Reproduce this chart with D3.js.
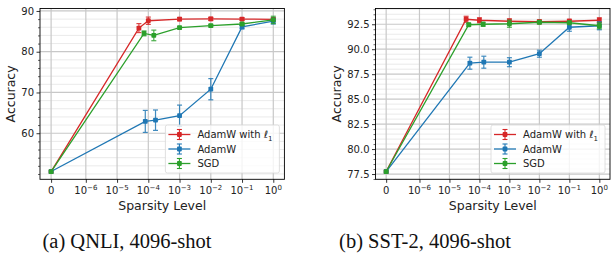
<!DOCTYPE html>
<html><head><meta charset="utf-8">
<script src="https://cdn.jsdelivr.net/npm/d3@7"></script>
<style>body{margin:0;background:#fff}svg{display:block}text{font-family:"DejaVu Sans",sans-serif}text.cap{font-family:"Liberation Serif","Times New Roman",serif}</style>
</head><body><svg id="c" width="611" height="258"></svg>
<script>
// ---- data ----
const xTickVals = [0, 1e-6, 1e-5, 1e-4, 1e-3, 1e-2, 1e-1, 1];
const xTickExps = [null, "\u22126", "\u22125", "\u22124", "\u22123", "\u22122", "\u22121", "0"];
const seriesNames = ["AdamW with \u2113", "AdamW", "SGD"];
const seriesColors = ["#d62728", "#1f77b4", "#2ca02c"];

const qnliRedX = [0, 5e-5, 1e-4, 1e-3, 1e-2, 1e-1, 1];
const qnliRedY = [50.6, 85.8, 87.6, 88.0, 88.05, 88.0, 87.95];
const qnliRedE = [0, 1.1, 0.9, 0.4, 0.4, 0.3, 0.4];
const qnliBlueX = [0, 8e-5, 1.7e-4, 1e-3, 1e-2, 1e-1, 1];
const qnliBlueY = [50.6, 62.9, 63.2, 64.3, 70.8, 86.1, 87.5];
const qnliBlueE = [0, 2.7, 2.5, 2.6, 2.6, 0.5, 0.7];
const qnliGreenX = [0, 7.3e-5, 1.5e-4, 1e-3, 1e-2, 1e-1, 1];
const qnliGreenY = [50.6, 84.5, 84.0, 85.9, 86.4, 86.8, 87.8];
const qnliGreenE = [0, 0.6, 1.3, 0.3, 0.3, 0.3, 0.9];
const qnliYTicks = [60, 70, 80, 90];
const qnliYMinorStep = 2;

const sstRedX = [0, 3.6e-5, 1e-4, 1e-3, 1e-2, 1e-1, 1];
const sstRedY = [77.75, 93.0, 92.9, 92.8, 92.75, 92.8, 92.9];
const sstRedE = [0, 0.3, 0.25, 0.25, 0.2, 0.2, 0.25];
const sstBlueX = [0, 4.8e-5, 1.4e-4, 1e-3, 1e-2, 1e-1, 1];
const sstBlueY = [77.75, 88.6, 88.7, 88.7, 89.55, 92.2, 92.35];
const sstBlueE = [0, 0.6, 0.6, 0.45, 0.35, 0.4, 0.4];
const sstGreenX = [0, 4.4e-5, 1.33e-4, 1e-3, 1e-2, 1e-1, 1];
const sstGreenY = [77.75, 92.45, 92.5, 92.55, 92.7, 92.65, 92.35];
const sstGreenE = [0, 0.15, 0.2, 0.35, 0.15, 0.15, 0.3];
const sstYTicks = [77.5, 80.0, 82.5, 85.0, 87.5, 90.0, 92.5];
const sstYMinorStep = 0.5;

const captions = ["(a) QNLI, 4096-shot", "(b) SST-2, 4096-shot"];

// ---- symlog transform (linthresh 1e-6, linscale 1) ----
const LT = 1e-6, LS = 1 / (1 - 0.1);
const symT = v => v <= LT ? v / LT * LS : LS + Math.log10(v / LT);

const svg = d3.select("#c");

function panel(opt) {
  const {left, right, top, bottom, series, yTicks, minorStep, fmt, labelX, caption, capX} = opt;
  const g = svg.append("g");
  const tMin = symT(0), tMax = symT(1), tm = (tMax - tMin) * 0.05;
  const x = d3.scaleLinear().domain([tMin - tm, tMax + tm]).range([left, right]);
  const X = v => x(symT(v));
  let lo = Infinity, hi = -Infinity;
  series.forEach(s => s.y.forEach((v, i) => { lo = Math.min(lo, v - s.e[i]); hi = Math.max(hi, v + s.e[i]); }));
  const ym = (hi - lo) * 0.05;
  const y = d3.scaleLinear().domain([lo - ym, hi + ym]).range([bottom, top]);
  const [d0, d1] = y.domain();
  const minor = d3.range(Math.ceil(d0 / minorStep) * minorStep, d1, minorStep).filter(v => !yTicks.some(t => Math.abs(t - v) < 1e-9));

  // grid
  g.append("g").selectAll("line").data(minor).join("line")
    .attr("x1", left).attr("x2", right).attr("y1", d => y(d)).attr("y2", d => y(d))
    .attr("stroke", "#e4e4e4").attr("stroke-width", 0.8);
  g.append("g").selectAll("line").data(yTicks).join("line")
    .attr("x1", left).attr("x2", right).attr("y1", d => y(d)).attr("y2", d => y(d))
    .attr("stroke", "#c8c8c8").attr("stroke-width", 1.2);
  g.append("g").selectAll("line").data(xTickVals).join("line")
    .attr("x1", d => X(d)).attr("x2", d => X(d)).attr("y1", top).attr("y2", bottom)
    .attr("stroke", "#c8c8c8").attr("stroke-width", 1.2);

  // series
  series.forEach(s => {
    const pts = s.x.map((v, i) => ({x: v, y: s.y[i], e: s.e[i]}));
    const sg = g.append("g");
    sg.append("path").datum(pts)
      .attr("d", d3.line().x(d => X(d.x)).y(d => y(d.y)))
      .attr("fill", "none").attr("stroke", s.color).attr("stroke-width", 1.3);
    const eb = sg.selectAll("g.eb").data(pts.filter(d => d.e > 0)).join("g").attr("stroke", s.color).attr("stroke-width", 1.2).attr("opacity", 0.85);
    eb.append("line").attr("x1", d => X(d.x)).attr("x2", d => X(d.x)).attr("y1", d => y(d.y - d.e)).attr("y2", d => y(d.y + d.e));
    eb.append("line").attr("x1", d => X(d.x) - 2.5).attr("x2", d => X(d.x) + 2.5).attr("y1", d => y(d.y - d.e)).attr("y2", d => y(d.y - d.e));
    eb.append("line").attr("x1", d => X(d.x) - 2.5).attr("x2", d => X(d.x) + 2.5).attr("y1", d => y(d.y + d.e)).attr("y2", d => y(d.y + d.e));
    sg.selectAll("rect").data(pts).join("rect")
      .attr("x", d => X(d.x) - 2.4).attr("y", d => y(d.y) - 2.4).attr("width", 4.8).attr("height", 4.8)
      .attr("rx", 0.8).attr("fill", s.color);
  });

  // axes
  const ax = g.append("g").attr("transform", `translate(0,${bottom})`)
    .call(d3.axisBottom(x).tickValues(xTickVals.map(symT)).tickSize(3.5).tickPadding(3).tickFormat(""));
  ax.selectAll(".tick text").remove();
  ax.select(".domain").remove();
  ax.selectAll(".tick line").attr("stroke", "#000").attr("stroke-width", 0.8);
  const tl = g.append("g").selectAll("text").data(xTickVals).join("text")
    .attr("x", d => X(d)).attr("y", bottom + 15).attr("text-anchor", "middle")
    .attr("font-size", 10).attr("fill", "#222");
  tl.each(function(d, i) {
    const t = d3.select(this);
    if (xTickExps[i] === null) { t.text("0"); return; }
    t.append("tspan").text("10");
    t.append("tspan").attr("dy", -4).attr("font-size", 7).text(xTickExps[i]);
  });

  const ayMinor = g.append("g").attr("transform", `translate(${left},0)`)
    .call(d3.axisLeft(y).tickValues(minor).tickSize(2).tickFormat(""));
  ayMinor.select(".domain").remove();
  ayMinor.selectAll(".tick line").attr("stroke", "#000").attr("stroke-width", 0.6);
  const ay = g.append("g").attr("transform", `translate(${left},0)`)
    .call(d3.axisLeft(y).tickValues(yTicks).tickSize(3.5).tickPadding(2.5).tickFormat(fmt));
  ay.select(".domain").remove();
  ay.selectAll(".tick line").attr("stroke", "#000").attr("stroke-width", 0.8);
  ay.selectAll(".tick text").attr("font-size", 10).attr("fill", "#222").attr("font-family", "DejaVu Sans");

  g.append("rect").attr("x", left).attr("y", top).attr("width", right - left).attr("height", bottom - top)
    .attr("fill", "none").attr("stroke", "#000").attr("stroke-width", 0.9);

  // labels
  g.append("text").attr("x", (left + right) / 2).attr("y", bottom + 31).attr("text-anchor", "middle")
    .attr("font-size", 12.5).attr("fill", "#222").text("Sparsity Level");
  g.append("text").attr("transform", `translate(${labelX},${(top + bottom) / 2}) rotate(-90)`)
    .attr("text-anchor", "middle").attr("font-size", 12.5).attr("fill", "#222").text("Accuracy");

  // legend
  const lx = right - 119, ly = 125;
  const lg = g.append("g");
  lg.append("rect").attr("x", lx).attr("y", ly).attr("width", 114).attr("height", 48).attr("rx", 2)
    .attr("fill", "#fff").attr("fill-opacity", 0.8).attr("stroke", "#d8d8d8").attr("stroke-width", 0.8);
  series.forEach((s, i) => {
    const cy = ly + 9.5 + i * 14.5, sx = lx + 3;
    const e = lg.append("g").attr("stroke", s.color);
    e.append("line").attr("x1", sx).attr("x2", sx + 22).attr("y1", cy).attr("y2", cy).attr("stroke-width", 1.3);
    e.append("line").attr("x1", sx + 11).attr("x2", sx + 11).attr("y1", cy - 5).attr("y2", cy + 5).attr("stroke-width", 1.1);
    e.append("line").attr("x1", sx + 8.5).attr("x2", sx + 13.5).attr("y1", cy - 5).attr("y2", cy - 5).attr("stroke-width", 1.1);
    e.append("line").attr("x1", sx + 8.5).attr("x2", sx + 13.5).attr("y1", cy + 5).attr("y2", cy + 5).attr("stroke-width", 1.1);
    lg.append("rect").attr("x", sx + 11 - 2.4).attr("y", cy - 2.4).attr("width", 4.8).attr("height", 4.8).attr("rx", 0.8).attr("fill", s.color);
    const t = lg.append("text").attr("x", sx + 29).attr("y", cy + 3.6).attr("font-size", 10).attr("fill", "#222");
    if (i === 0) {
      t.append("tspan").text("AdamW with ");
      t.append("tspan").attr("font-style", "italic").text("\u2113");
      t.append("tspan").attr("dy", 2.5).attr("font-size", 7).text("1");
    } else t.text(s.name);
  });

  svg.append("text").attr("class", "cap").attr("x", capX).attr("y", 248).attr("text-anchor", "middle")
    .attr("font-size", 20.5).attr("fill", "#111").text(caption);
}

function S(i, xs, ys, es) { return {name: seriesNames[i], color: seriesColors[i], x: xs, y: ys, e: es}; }

panel({left: 40, right: 284.4, top: 8.5, bottom: 179.3,
  series: [S(0, qnliRedX, qnliRedY, qnliRedE), S(1, qnliBlueX, qnliBlueY, qnliBlueE), S(2, qnliGreenX, qnliGreenY, qnliGreenE)],
  yTicks: qnliYTicks, minorStep: qnliYMinorStep, fmt: d3.format("d"), labelX: 15, caption: captions[0], capX: 127});
panel({left: 375.5, right: 610, top: 8.5, bottom: 179.3,
  series: [S(0, sstRedX, sstRedY, sstRedE), S(1, sstBlueX, sstBlueY, sstBlueE), S(2, sstGreenX, sstGreenY, sstGreenE)],
  yTicks: sstYTicks, minorStep: sstYMinorStep, fmt: d3.format(".1f"), labelX: 341, caption: captions[1], capX: 425});
</script></body></html>
